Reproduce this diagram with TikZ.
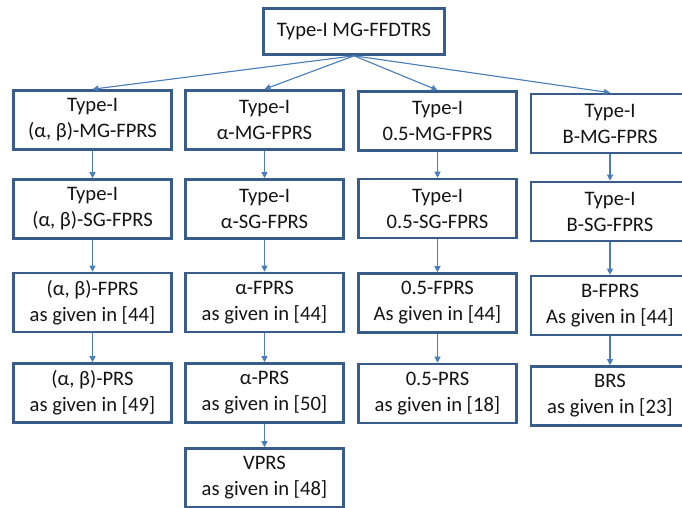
\documentclass[tikz,border=0pt]{standalone}
\usepackage{fontspec}
\setmainfont{Carlito}
\usetikzlibrary{arrows.meta}
\definecolor{boxline}{RGB}{56,93,138}
\definecolor{arrline}{RGB}{74,126,187}

\begin{document}
\begin{tikzpicture}[x=1pt, y=-1pt, >={Triangle[length=6pt, width=6pt]},
    box/.style={draw=boxline, line width=2.6pt, fill=white, align=center,
        minimum width=158pt, minimum height=59pt, inner sep=0pt,
        font=\fontsize{20.6}{26}\selectfont, text=black!92},
    link/.style={->, draw=arrline, fill=arrline, line width=1.1pt}]
    \useasboundingbox (0,0) rectangle (682,508);

    % Root
    \node[box, minimum width=181pt, minimum height=46pt] (root) at (354,31.5) {Type-I MG-FFDTRS};

    % Column (alpha, beta)
    \node[box] (ab1) at (92.5,120) {Type-I\\(α, β)-MG-FPRS};
    \node[box] (ab2) at (92.5,209) {Type-I\\(α, β)-SG-FPRS};
    \node[box] (ab3) at (92.5,302.5) {(α, β)-FPRS\\as given in [44]};
    \node[box] (ab4) at (92.5,393) {(α, β)-PRS\\as given in [49]};

    % Column alpha
    \node[box] (al1) at (264.5,120) {Type-I\\α-MG-FPRS};
    \node[box] (al2) at (264.5,209) {Type-I\\α-SG-FPRS};
    \node[box] (al3) at (264.5,302.5) {α-FPRS\\as given in [44]};
    \node[box] (al4) at (264.5,393) {α-PRS\\as given in [50]};
    \node[box] (al5) at (264.5,478) {VPRS\\as given in [48]};

    % Column 0.5
    \node[box] (hf1) at (437.5,121) {Type-I\\0.5-MG-FPRS};
    \node[box] (hf2) at (437.5,208.5) {Type-I\\0.5-SG-FPRS};
    \node[box] (hf3) at (437.5,303) {0.5-FPRS\\As given in [44]};
    \node[box] (hf4) at (437.5,393.5) {0.5-PRS\\as given in [18]};

    % Column B
    \node[box] (bb1) at (610,123.5) {Type-I\\B-MG-FPRS};
    \node[box] (bb2) at (610,211.5) {Type-I\\B-SG-FPRS};
    \node[box] (bb3) at (610,305.5) {B-FPRS\\As given in [44]};
    \node[box] (bb4) at (610,396) {BRS\\as given in [23]};

    % Root to first row
    \foreach \n in {ab1, al1, hf1, bb1}
        \draw[link] (root.south) -- (\n.north);

    % Down each column
    \draw[link] (ab1) -- (ab2);
    \draw[link] (ab2) -- (ab3);
    \draw[link] (ab3) -- (ab4);
    \draw[link] (al1) -- (al2);
    \draw[link] (al2) -- (al3);
    \draw[link] (al3) -- (al4);
    \draw[link] (al4) -- (al5);
    \draw[link] (hf1) -- (hf2);
    \draw[link] (hf2) -- (hf3);
    \draw[link] (hf3) -- (hf4);
    \draw[link] (bb1) -- (bb2);
    \draw[link] (bb2) -- (bb3);
    \draw[link] (bb3) -- (bb4);
\end{tikzpicture}
\end{document}
